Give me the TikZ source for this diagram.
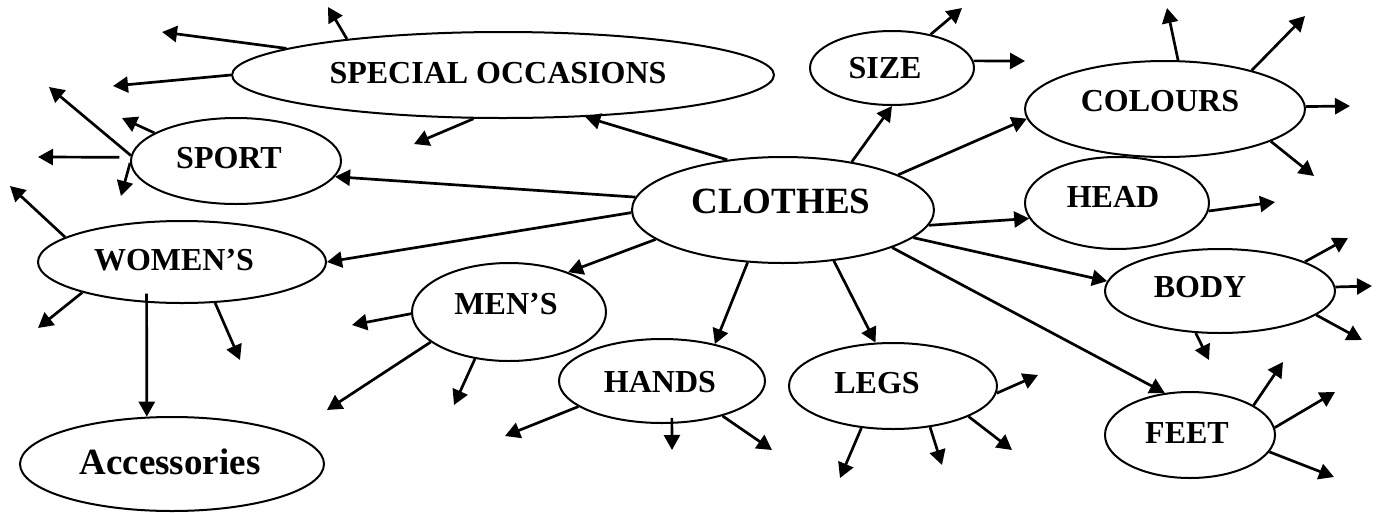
\documentclass[tikz,border=0pt]{standalone}
\usepackage{fontspec}
\setmainfont{Liberation Serif}
\usetikzlibrary{shapes.geometric,arrows.meta}
\tikzset{
  oval/.style={ellipse,draw,line width=2pt,inner sep=0pt},
  txt/.style={font=\bfseries\fontsize{32}{36}\selectfont,inner sep=0pt},
  bigtxt/.style={font=\bfseries\fontsize{37}{42}\selectfont,inner sep=0pt},
  arr/.style={line width=2.7pt,-{Triangle[length=15pt,width=16pt]}}
}
\begin{document}
\begin{tikzpicture}[x=1pt,y=-1pt]
\useasboundingbox (0,0) rectangle (1379,512);
% ellipses
\node[oval,minimum width=542pt,minimum height=86pt,label={[txt,xshift=-5pt,yshift=2pt]center:SPECIAL OCCASIONS}] (so) at (503,75) {};
\node[oval,minimum width=164pt,minimum height=74pt,label={[txt,xshift=-7pt]center:SIZE}] (size) at (892,68) {};
\node[oval,minimum width=280pt,minimum height=96pt,label={[txt,xshift=-5pt,yshift=8pt]center:COLOURS}] (col) at (1165,109) {};
\node[oval,minimum width=184pt,minimum height=92pt,label={[txt,xshift=-4pt,yshift=6pt]center:HEAD}] (head) at (1117,203) {};
\node[oval,minimum width=302pt,minimum height=106pt,label={[bigtxt,xshift=-2pt,yshift=9pt]center:CLOTHES}] (clo) at (783,210) {};
\node[oval,minimum width=210pt,minimum height=86pt,label={[txt,xshift=-7pt,yshift=3pt]center:SPORT}] (sport) at (236,161) {};
\node[oval,minimum width=288pt,minimum height=82pt,label={[txt,xshift=-8pt,yshift=2pt]center:WOMEN’S}] (wom) at (182,262) {};
\node[oval,minimum width=194pt,minimum height=98pt,label={[txt,xshift=-3pt,yshift=8pt]center:MEN’S}] (men) at (509,312) {};
\node[oval,minimum width=206pt,minimum height=84pt,label={[txt,xshift=-2pt,yshift=-1pt]center:HANDS}] (hands) at (662,381) {};
\node[oval,minimum width=208pt,minimum height=86pt,label={[txt,xshift=-16pt,yshift=3pt]center:LEGS}] (legs) at (893,386) {};
\node[oval,minimum width=230pt,minimum height=84pt,label={[txt,xshift=-20pt,yshift=4pt]center:BODY}] (body) at (1220,291) {};
\node[oval,minimum width=170pt,minimum height=86pt,label={[txt,xshift=-3pt,yshift=2pt]center:FEET}] (feet) at (1190,435) {};
\node[oval,minimum width=304pt,minimum height=94pt,label={[bigtxt,xshift=-2pt,yshift=2pt]center:Accessories}] (acc) at (172,464) {};
% free ends
\coordinate (so1) at (162,32);
\coordinate (so2) at (113,86);
\coordinate (so3) at (328,7);
\coordinate (so4) at (414,144);
\coordinate (sp1) at (49,87);
\coordinate (sp2) at (122,118);
\coordinate (sp3) at (38,157);
\coordinate (sp4) at (121,196);
\coordinate (wo1) at (10,186);
\coordinate (wo2) at (38,328);
\coordinate (wo3) at (240,360);
\coordinate (me1) at (352,325);
\coordinate (me2) at (327,410);
\coordinate (me3) at (454,405);
\coordinate (ha1) at (505,436);
\coordinate (ha2) at (672,450);
\coordinate (ha3) at (772,450);
\coordinate (le1) at (840,478);
\coordinate (le2) at (942,465);
\coordinate (le3) at (1012,450);
\coordinate (le4) at (1038,375);
\coordinate (bo1) at (1348,238);
\coordinate (bo2) at (1372,286);
\coordinate (bo3) at (1362,340);
\coordinate (bo4) at (1209,360);
\coordinate (fe1) at (1283,362);
\coordinate (fe2) at (1335,392);
\coordinate (fe3) at (1334,477);
\coordinate (si1) at (962,8);
\coordinate (si2) at (1025,61);
\coordinate (co1) at (1167,8);
\coordinate (co2) at (1305,16);
\coordinate (co3) at (1350,106);
\coordinate (co4) at (1314,176);
\coordinate (he1) at (1275,202);
% from CLOTHES
\draw[arr] (clo.138) -- (so.-27);
\draw[arr] (clo.175) -- (sport.-9);
\draw[arr] (clo.181) -- (wom.east);
\draw[arr] (clo.193) -- (men.34);
\draw[arr] (clo.236) -- (hands.35);
\draw[arr] (clo.-45) -- (legs.112);
\draw[arr] (clo.-19) -- (feet.121);
\draw[arr] (clo.-12.5) -- (body.175);
\draw[arr] (clo.-6) -- (head.190);
\draw[arr] (clo.17) -- (col.184);
\draw[arr] (clo.35) -- (size.south);
% SPECIAL OCCASIONS
\draw[arr] (so.173) -- (so1);
\draw[arr] (so.west) -- (so2);
\draw[arr] (so.167) -- (so3);
\draw[arr] (so.236) -- (so4);
% SPORT
\draw[arr] (sport.177) -- (sp1);
\draw[arr] (sport.161) -- (sp2);
\draw[arr,shorten <=11pt] (sport.178) -- (sp3);
\draw[arr] (sport.181) -- (sp4);
% WOMEN'S
\draw[arr] (wom.168) -- (wo1);
\draw[arr] (wom.197) -- (wo2);
\draw[arr,shorten <=-9pt] (wom.229) -- (acc.118);
\draw[arr] (wom.-51) -- (wo3);
% MEN'S
\draw[arr] (men.181) -- (me1);
\draw[arr] (men.201) -- (me2);
\draw[arr] (men.234) -- (me3);
% HANDS
\draw[arr] (hands.197) -- (ha1);
\draw[arr,shorten <=-6pt] (hands.-77) -- (ha2);
\draw[arr] (hands.-30) -- (ha3);
% LEGS
\draw[arr] (legs.233) -- (le1);
\draw[arr] (legs.-48) -- (le2);
\draw[arr] (legs.-22) -- (le3);
\draw[arr] (legs.-4) -- (le4);
% BODY
\draw[arr] (body.19) -- (bo1);
\draw[arr] (body.2) -- (bo2);
\draw[arr] (body.-14) -- (bo3);
\draw[arr] (body.240) -- (bo4);
% FEET
\draw[arr] (feet.25) -- (fe1);
\draw[arr] (feet.5) -- (fe2);
\draw[arr] (feet.-12) -- (fe3);
% SIZE
\draw[arr] (size.41) -- (si1);
\draw[arr] (size.5) -- (si2);
% COLOURS
\draw[arr] (col.75) -- (co1);
\draw[arr] (col.24) -- (co2);
\draw[arr] (col.1) -- (co3);
\draw[arr] (col.-17) -- (co4);
% HEAD
\draw[arr] (head.-5) -- (he1);
\end{tikzpicture}
\end{document}
